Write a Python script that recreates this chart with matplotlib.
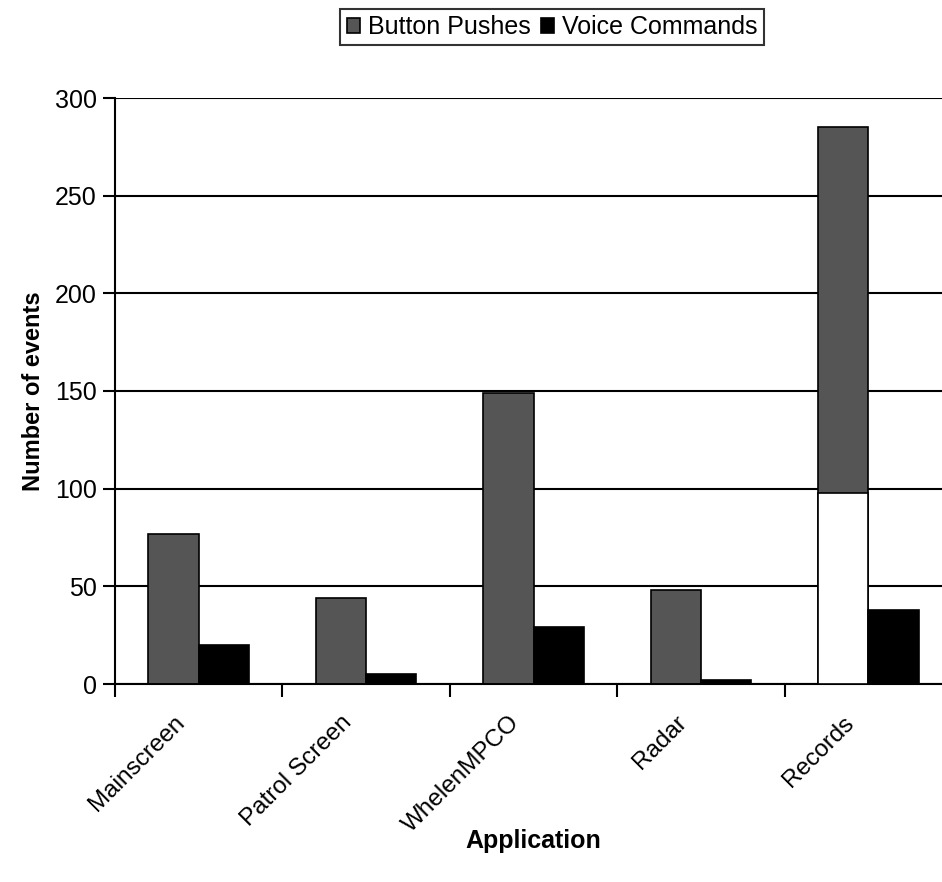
import matplotlib
matplotlib.use("Agg")
import matplotlib.pyplot as plt
import numpy as np

categories = ["Mainscreen", "Patrol Screen", "WhelenMPCO", "Radar", "Records"]
button_pushes = [77, 44, 149, 48, 285]
voice_commands = [20, 5, 29, 2, 38]
faded_part = [0, 0, 0, 0, 98]   # lower part of the Records bar appears blank in the scan
yticks = [0, 50, 100, 150, 200, 250, 300]

plt.rcParams['font.family'] = ['Liberation Sans', 'DejaVu Sans']

fig = plt.figure(figsize=(9.42, 8.82), dpi=100)
W, H = 942, 882
ax = fig.add_axes([115 / W, 1 - 684 / H, 837 / W, (684 - 98) / H])

x = np.arange(len(categories))
bw = 0.3
ax.bar(x - bw / 2, button_pushes, bw, color="#555555", edgecolor="black", linewidth=1.2,
       label="Button Pushes", zorder=3)
ax.bar(x - bw / 2, faded_part, bw, color="white", edgecolor="black", linewidth=1.2, zorder=3)
ax.bar(x + bw / 2, voice_commands, bw, color="black", edgecolor="black", linewidth=1.2,
       label="Voice Commands", zorder=3)

ax.set_xlim(-0.5, len(categories) - 0.5)
ax.set_ylim(0, 300)
ax.set_yticks(yticks)
ax.set_yticklabels([str(v) for v in yticks], fontsize=18)
ax.yaxis.grid(True, color="black", linewidth=1.5, zorder=0)
ax.set_axisbelow(True)

ax.set_xticks(np.arange(len(categories) + 1) - 0.5)
ax.set_xticklabels([])
ax.set_xticks(x - 0.15, minor=True)
ax.set_xticklabels(categories, minor=True, rotation=45, ha="right", va="top",
                   rotation_mode="anchor", fontsize=17.5)
ax.tick_params(axis="x", which="minor", length=0, pad=20)
ax.tick_params(axis="x", which="major", length=9, width=1.5, direction="out")
ax.tick_params(axis="y", length=9, width=1.5, direction="out", pad=4)

for s in ["top", "right"]:
    ax.spines[s].set_visible(False)
for s in ["left", "bottom"]:
    ax.spines[s].set_linewidth(1.5)

ax.set_ylabel("Number of events", fontsize=17, fontweight="bold", labelpad=7)
ax.set_xlabel("Application", fontsize=18, fontweight="bold", labelpad=-6)

leg = fig.legend(loc="center", bbox_to_anchor=(552 / W, 1 - 27 / H), ncol=2,
                 fontsize=18, frameon=True, fancybox=False, edgecolor="black",
                 handlelength=0.55, handleheight=0.55, handletextpad=0.3,
                 columnspacing=0.4, borderpad=0.25, borderaxespad=0)
leg.get_frame().set_linewidth(1.5)

fig.savefig("out.png", dpi=100)
